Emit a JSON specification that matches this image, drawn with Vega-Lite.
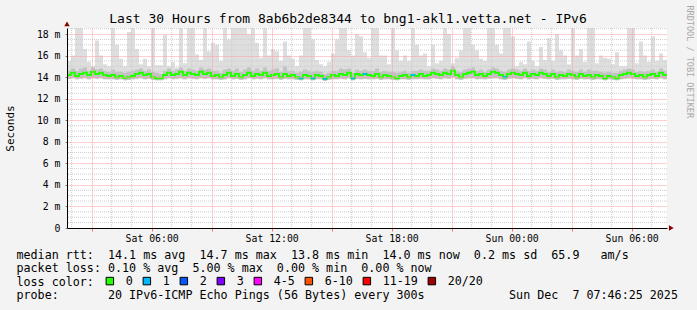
{
  "$schema": "https://vega.github.io/schema/vega-lite/v6.json",
  "width": 600,
  "height": 200,
  "autosize": {"type": "none"},
  "padding": {"left": 67, "top": 28, "right": 30, "bottom": 82},
  "background": "#f3f3f3",
  "config": {
    "view": {"fill": "#ffffff", "stroke": null},
    "font": "DejaVu Sans Mono"
  },
  "title": {
    "text": "Last 30 Hours from 8ab6b2de8344 to bng1-akl1.vetta.net - IPv6",
    "font": "DejaVu Sans Mono",
    "fontSize": 13,
    "fontWeight": "normal",
    "color": "#000000",
    "anchor": "middle",
    "baseline": "alphabetic",
    "offset": -31,
    "dx": -19
  },
  "resolve": {"axis": {"y": "independent"}},
  "datasets": {
    "s": [
      {"t":"2025-12-06T01:46Z","m":14.2,"lo":13.85,"q3":14.6,"hi":15.5},
      {"t":"2025-12-06T01:58Z","m":14.4,"lo":13.9,"q3":14.8,"hi":16.0},
      {"t":"2025-12-06T02:10Z","m":14.1,"lo":13.8,"q3":14.6,"hi":19.5},
      {"t":"2025-12-06T02:22Z","m":14.3,"lo":13.85,"q3":14.8,"hi":19.5},
      {"t":"2025-12-06T02:34Z","m":14.4,"lo":13.9,"q3":14.9,"hi":16.6},
      {"t":"2025-12-06T02:46Z","m":14.2,"lo":13.8,"q3":14.6,"hi":15.4},
      {"t":"2025-12-06T02:58Z","m":14.5,"lo":13.9,"q3":14.9,"hi":15.0},
      {"t":"2025-12-06T03:10Z","m":14.3,"lo":13.85,"q3":14.7,"hi":17.4},
      {"t":"2025-12-06T03:22Z","m":14.4,"lo":13.9,"q3":14.8,"hi":16.0},
      {"t":"2025-12-06T03:34Z","m":14.2,"lo":13.8,"q3":14.6,"hi":15.2},
      {"t":"2025-12-06T03:46Z","m":14.1,"lo":13.8,"q3":14.5,"hi":15.0},
      {"t":"2025-12-06T03:58Z","m":14.2,"lo":13.8,"q3":14.7,"hi":19.5},
      {"t":"2025-12-06T04:10Z","m":14.0,"lo":13.75,"q3":14.5,"hi":17.0},
      {"t":"2025-12-06T04:22Z","m":14.1,"lo":13.8,"q3":14.5,"hi":15.7},
      {"t":"2025-12-06T04:34Z","m":13.95,"lo":13.7,"q3":14.4,"hi":15.0},
      {"t":"2025-12-06T04:46Z","m":14.0,"lo":13.75,"q3":14.5,"hi":18.2},
      {"t":"2025-12-06T04:58Z","m":14.1,"lo":13.8,"q3":14.6,"hi":19.5},
      {"t":"2025-12-06T05:10Z","m":14.3,"lo":13.85,"q3":14.7,"hi":16.6},
      {"t":"2025-12-06T05:22Z","m":14.4,"lo":13.9,"q3":14.8,"hi":15.2},
      {"t":"2025-12-06T05:34Z","m":14.2,"lo":13.8,"q3":14.6,"hi":15.7},
      {"t":"2025-12-06T05:46Z","m":14.3,"lo":13.85,"q3":14.7,"hi":15.0},
      {"t":"2025-12-06T05:58Z","m":14.0,"lo":13.75,"q3":14.5,"hi":19.5},
      {"t":"2025-12-06T06:10Z","m":13.9,"lo":13.7,"q3":14.4,"hi":15.1},
      {"t":"2025-12-06T06:22Z","m":13.9,"lo":13.7,"q3":14.3,"hi":15.1},
      {"t":"2025-12-06T06:34Z","m":14.2,"lo":13.8,"q3":14.6,"hi":17.9},
      {"t":"2025-12-06T06:46Z","m":14.4,"lo":13.9,"q3":14.8,"hi":15.0},
      {"t":"2025-12-06T06:58Z","m":14.2,"lo":13.8,"q3":14.6,"hi":15.4},
      {"t":"2025-12-06T07:10Z","m":14.3,"lo":13.85,"q3":14.7,"hi":14.9},
      {"t":"2025-12-06T07:22Z","m":14.5,"lo":13.9,"q3":14.9,"hi":19.5},
      {"t":"2025-12-06T07:34Z","m":14.2,"lo":13.8,"q3":14.6,"hi":15.3},
      {"t":"2025-12-06T07:46Z","m":14.4,"lo":13.9,"q3":14.8,"hi":19.5},
      {"t":"2025-12-06T07:58Z","m":14.3,"lo":13.85,"q3":14.7,"hi":19.5},
      {"t":"2025-12-06T08:10Z","m":14.2,"lo":13.8,"q3":14.6,"hi":16.1},
      {"t":"2025-12-06T08:22Z","m":14.5,"lo":13.9,"q3":14.9,"hi":15.6},
      {"t":"2025-12-06T08:34Z","m":14.3,"lo":13.85,"q3":14.7,"hi":19.5},
      {"t":"2025-12-06T08:46Z","m":14.4,"lo":13.9,"q3":14.8,"hi":16.4},
      {"t":"2025-12-06T08:58Z","m":14.1,"lo":13.8,"q3":14.6,"hi":17.2},
      {"t":"2025-12-06T09:10Z","m":14.2,"lo":13.8,"q3":14.6,"hi":17.0},
      {"t":"2025-12-06T09:22Z","m":14.0,"lo":13.75,"q3":14.4,"hi":15.5},
      {"t":"2025-12-06T09:34Z","m":14.2,"lo":13.8,"q3":14.7,"hi":19.5},
      {"t":"2025-12-06T09:46Z","m":14.4,"lo":13.9,"q3":14.8,"hi":17.5},
      {"t":"2025-12-06T09:58Z","m":14.1,"lo":13.8,"q3":14.6,"hi":19.5},
      {"t":"2025-12-06T10:10Z","m":14.3,"lo":13.85,"q3":14.8,"hi":19.5},
      {"t":"2025-12-06T10:22Z","m":14.0,"lo":13.75,"q3":14.5,"hi":19.5},
      {"t":"2025-12-06T10:34Z","m":14.2,"lo":13.8,"q3":14.7,"hi":19.5},
      {"t":"2025-12-06T10:46Z","m":14.4,"lo":13.9,"q3":14.9,"hi":18.0},
      {"t":"2025-12-06T10:58Z","m":14.1,"lo":13.8,"q3":14.6,"hi":19.5},
      {"t":"2025-12-06T11:10Z","m":14.3,"lo":13.85,"q3":14.8,"hi":17.2},
      {"t":"2025-12-06T11:22Z","m":14.2,"lo":13.8,"q3":14.6,"hi":15.8},
      {"t":"2025-12-06T11:34Z","m":14.4,"lo":13.9,"q3":14.9,"hi":19.5},
      {"t":"2025-12-06T11:46Z","m":14.1,"lo":13.8,"q3":14.6,"hi":16.0},
      {"t":"2025-12-06T11:58Z","m":14.2,"lo":13.8,"q3":14.7,"hi":16.6},
      {"t":"2025-12-06T12:10Z","m":14.3,"lo":13.85,"q3":14.8,"hi":16.4},
      {"t":"2025-12-06T12:22Z","m":14.0,"lo":13.75,"q3":14.5,"hi":15.5},
      {"t":"2025-12-06T12:34Z","m":14.3,"lo":13.85,"q3":15.0,"hi":17.3},
      {"t":"2025-12-06T12:46Z","m":14.1,"lo":13.8,"q3":14.6,"hi":16.0},
      {"t":"2025-12-06T12:58Z","m":14.2,"lo":13.8,"q3":14.6,"hi":15.7},
      {"t":"2025-12-06T13:10Z","m":14.0,"lo":13.75,"q3":14.4,"hi":15.0},
      {"t":"2025-12-06T13:22Z","m":13.9,"lo":13.7,"q3":14.5,"hi":16.0},
      {"t":"2025-12-06T13:34Z","m":14.2,"lo":13.8,"q3":14.7,"hi":19.5},
      {"t":"2025-12-06T13:46Z","m":14.1,"lo":13.8,"q3":14.6,"hi":19.5},
      {"t":"2025-12-06T13:58Z","m":13.9,"lo":13.7,"q3":14.5,"hi":17.5},
      {"t":"2025-12-06T14:10Z","m":14.2,"lo":13.8,"q3":14.6,"hi":15.6},
      {"t":"2025-12-06T14:22Z","m":14.1,"lo":13.8,"q3":14.5,"hi":15.2},
      {"t":"2025-12-06T14:34Z","m":13.85,"lo":13.65,"q3":14.3,"hi":15.0},
      {"t":"2025-12-06T14:46Z","m":14.0,"lo":13.75,"q3":14.4,"hi":15.4},
      {"t":"2025-12-06T14:58Z","m":14.2,"lo":13.8,"q3":14.6,"hi":16.2},
      {"t":"2025-12-06T15:10Z","m":14.1,"lo":13.8,"q3":14.6,"hi":17.5},
      {"t":"2025-12-06T15:22Z","m":14.3,"lo":13.85,"q3":14.8,"hi":19.5},
      {"t":"2025-12-06T15:34Z","m":14.2,"lo":13.8,"q3":14.7,"hi":19.0},
      {"t":"2025-12-06T15:46Z","m":14.4,"lo":13.9,"q3":14.8,"hi":16.5},
      {"t":"2025-12-06T15:58Z","m":13.9,"lo":13.7,"q3":14.4,"hi":16.0},
      {"t":"2025-12-06T16:10Z","m":14.3,"lo":13.85,"q3":14.7,"hi":18.0},
      {"t":"2025-12-06T16:22Z","m":14.2,"lo":13.8,"q3":14.6,"hi":17.8},
      {"t":"2025-12-06T16:34Z","m":14.3,"lo":13.85,"q3":14.7,"hi":16.3},
      {"t":"2025-12-06T16:46Z","m":14.2,"lo":13.8,"q3":14.6,"hi":15.8},
      {"t":"2025-12-06T16:58Z","m":14.1,"lo":13.8,"q3":14.6,"hi":19.5},
      {"t":"2025-12-06T17:10Z","m":14.3,"lo":13.85,"q3":14.8,"hi":19.0},
      {"t":"2025-12-06T17:22Z","m":14.0,"lo":13.75,"q3":14.5,"hi":16.0},
      {"t":"2025-12-06T17:34Z","m":14.2,"lo":13.8,"q3":14.6,"hi":16.0},
      {"t":"2025-12-06T17:46Z","m":14.1,"lo":13.8,"q3":14.5,"hi":15.2},
      {"t":"2025-12-06T17:58Z","m":14.0,"lo":13.75,"q3":14.5,"hi":19.5},
      {"t":"2025-12-06T18:10Z","m":13.9,"lo":13.7,"q3":14.4,"hi":16.5},
      {"t":"2025-12-06T18:22Z","m":14.1,"lo":13.8,"q3":14.5,"hi":15.5},
      {"t":"2025-12-06T18:34Z","m":14.2,"lo":13.8,"q3":14.6,"hi":16.0},
      {"t":"2025-12-06T18:46Z","m":14.0,"lo":13.75,"q3":14.4,"hi":15.5},
      {"t":"2025-12-06T18:58Z","m":14.2,"lo":13.8,"q3":14.6,"hi":19.5},
      {"t":"2025-12-06T19:10Z","m":14.1,"lo":13.8,"q3":14.6,"hi":17.0},
      {"t":"2025-12-06T19:22Z","m":14.3,"lo":13.85,"q3":14.7,"hi":16.0},
      {"t":"2025-12-06T19:34Z","m":14.1,"lo":13.8,"q3":14.6,"hi":16.2},
      {"t":"2025-12-06T19:46Z","m":14.2,"lo":13.8,"q3":14.6,"hi":15.0},
      {"t":"2025-12-06T19:58Z","m":14.4,"lo":13.9,"q3":14.8,"hi":17.0},
      {"t":"2025-12-06T20:10Z","m":14.3,"lo":13.85,"q3":14.7,"hi":15.3},
      {"t":"2025-12-06T20:22Z","m":14.2,"lo":13.8,"q3":14.6,"hi":15.5},
      {"t":"2025-12-06T20:34Z","m":14.4,"lo":13.9,"q3":14.8,"hi":19.5},
      {"t":"2025-12-06T20:46Z","m":14.3,"lo":13.85,"q3":14.7,"hi":18.0},
      {"t":"2025-12-06T20:58Z","m":14.6,"lo":14.0,"q3":15.0,"hi":15.3},
      {"t":"2025-12-06T21:10Z","m":14.2,"lo":13.8,"q3":14.6,"hi":15.8},
      {"t":"2025-12-06T21:22Z","m":14.0,"lo":13.75,"q3":14.5,"hi":16.5},
      {"t":"2025-12-06T21:34Z","m":14.3,"lo":13.85,"q3":14.7,"hi":19.5},
      {"t":"2025-12-06T21:46Z","m":14.4,"lo":13.9,"q3":14.8,"hi":19.5},
      {"t":"2025-12-06T21:58Z","m":14.5,"lo":13.9,"q3":14.9,"hi":17.0},
      {"t":"2025-12-06T22:10Z","m":14.2,"lo":13.8,"q3":14.6,"hi":16.5},
      {"t":"2025-12-06T22:22Z","m":14.3,"lo":13.85,"q3":14.7,"hi":15.7},
      {"t":"2025-12-06T22:34Z","m":14.1,"lo":13.8,"q3":14.5,"hi":15.5},
      {"t":"2025-12-06T22:46Z","m":14.3,"lo":13.85,"q3":14.7,"hi":19.5},
      {"t":"2025-12-06T22:58Z","m":14.5,"lo":13.9,"q3":14.9,"hi":19.5},
      {"t":"2025-12-06T23:10Z","m":14.4,"lo":13.9,"q3":14.8,"hi":17.0},
      {"t":"2025-12-06T23:22Z","m":14.2,"lo":13.8,"q3":14.6,"hi":16.2},
      {"t":"2025-12-06T23:34Z","m":14.0,"lo":13.75,"q3":14.5,"hi":19.5},
      {"t":"2025-12-06T23:46Z","m":14.3,"lo":13.85,"q3":14.7,"hi":19.5},
      {"t":"2025-12-06T23:58Z","m":14.4,"lo":13.9,"q3":14.8,"hi":17.8},
      {"t":"2025-12-07T00:10Z","m":14.3,"lo":13.85,"q3":14.7,"hi":15.0},
      {"t":"2025-12-07T00:22Z","m":14.2,"lo":13.8,"q3":14.6,"hi":15.4},
      {"t":"2025-12-07T00:34Z","m":14.4,"lo":13.9,"q3":14.8,"hi":15.2},
      {"t":"2025-12-07T00:46Z","m":14.1,"lo":13.8,"q3":14.6,"hi":17.3},
      {"t":"2025-12-07T00:58Z","m":14.3,"lo":13.85,"q3":14.7,"hi":15.5},
      {"t":"2025-12-07T01:10Z","m":14.2,"lo":13.8,"q3":14.6,"hi":15.0},
      {"t":"2025-12-07T01:22Z","m":14.4,"lo":13.9,"q3":14.8,"hi":16.8},
      {"t":"2025-12-07T01:34Z","m":14.3,"lo":13.85,"q3":14.7,"hi":15.6},
      {"t":"2025-12-07T01:46Z","m":14.1,"lo":13.8,"q3":14.5,"hi":17.6},
      {"t":"2025-12-07T01:58Z","m":14.3,"lo":13.85,"q3":14.7,"hi":15.5},
      {"t":"2025-12-07T02:10Z","m":14.0,"lo":13.75,"q3":14.5,"hi":18.0},
      {"t":"2025-12-07T02:22Z","m":14.2,"lo":13.8,"q3":14.6,"hi":16.5},
      {"t":"2025-12-07T02:34Z","m":14.1,"lo":13.8,"q3":14.5,"hi":16.0},
      {"t":"2025-12-07T02:46Z","m":14.3,"lo":13.85,"q3":14.7,"hi":15.2},
      {"t":"2025-12-07T02:58Z","m":14.2,"lo":13.8,"q3":14.6,"hi":19.5},
      {"t":"2025-12-07T03:10Z","m":14.0,"lo":13.75,"q3":14.5,"hi":16.0},
      {"t":"2025-12-07T03:22Z","m":14.3,"lo":13.85,"q3":14.7,"hi":16.6},
      {"t":"2025-12-07T03:34Z","m":14.1,"lo":13.8,"q3":14.5,"hi":15.4},
      {"t":"2025-12-07T03:46Z","m":14.2,"lo":13.8,"q3":14.7,"hi":19.5},
      {"t":"2025-12-07T03:58Z","m":14.0,"lo":13.75,"q3":14.6,"hi":19.0},
      {"t":"2025-12-07T04:10Z","m":14.2,"lo":13.8,"q3":14.6,"hi":15.3},
      {"t":"2025-12-07T04:22Z","m":14.1,"lo":13.8,"q3":14.5,"hi":16.0},
      {"t":"2025-12-07T04:34Z","m":13.9,"lo":13.7,"q3":14.4,"hi":15.8},
      {"t":"2025-12-07T04:46Z","m":14.1,"lo":13.8,"q3":14.5,"hi":15.7},
      {"t":"2025-12-07T04:58Z","m":14.0,"lo":13.75,"q3":14.4,"hi":15.2},
      {"t":"2025-12-07T05:10Z","m":13.9,"lo":13.7,"q3":14.4,"hi":16.3},
      {"t":"2025-12-07T05:22Z","m":14.2,"lo":13.8,"q3":14.6,"hi":15.0},
      {"t":"2025-12-07T05:34Z","m":14.3,"lo":13.85,"q3":14.7,"hi":15.0},
      {"t":"2025-12-07T05:46Z","m":14.4,"lo":13.9,"q3":14.8,"hi":19.5},
      {"t":"2025-12-07T05:58Z","m":14.3,"lo":13.85,"q3":14.7,"hi":19.5},
      {"t":"2025-12-07T06:10Z","m":14.1,"lo":13.8,"q3":14.5,"hi":15.3},
      {"t":"2025-12-07T06:22Z","m":14.2,"lo":13.8,"q3":14.6,"hi":17.3},
      {"t":"2025-12-07T06:34Z","m":14.0,"lo":13.75,"q3":14.5,"hi":16.0},
      {"t":"2025-12-07T06:46Z","m":14.2,"lo":13.8,"q3":14.6,"hi":15.4},
      {"t":"2025-12-07T06:58Z","m":14.3,"lo":13.85,"q3":14.7,"hi":17.8},
      {"t":"2025-12-07T07:10Z","m":14.1,"lo":13.8,"q3":14.5,"hi":15.5},
      {"t":"2025-12-07T07:22Z","m":14.4,"lo":13.9,"q3":14.8,"hi":16.2},
      {"t":"2025-12-07T07:34Z","m":14.2,"lo":13.8,"q3":14.6,"hi":15.6},
      {"t":"2025-12-07T07:46Z","m":14.2,"lo":13.8,"q3":14.6,"hi":15.6}
    ],
    "loss": [
      {"t":"2025-12-06T13:28Z","m":13.9,"l":"1"},
      {"t":"2025-12-06T14:04Z","m":13.9,"l":"1"},
      {"t":"2025-12-06T14:40Z","m":13.85,"l":"1"},
      {"t":"2025-12-06T16:04Z","m":13.9,"l":"1"},
      {"t":"2025-12-06T16:40Z","m":14.3,"l":"1"},
      {"t":"2025-12-06T19:04Z","m":14.2,"l":"1"},
      {"t":"2025-12-06T23:40Z","m":14.0,"l":"1"}
    ],
    "hgrid": [
      {"v":0.5},{"v":1},{"v":1.5},{"v":2.5},{"v":3},{"v":3.5},{"v":4.5},{"v":5},{"v":5.5},
      {"v":6.5},{"v":7},{"v":7.5},{"v":8.5},{"v":9},{"v":9.5},{"v":10.5},{"v":11},{"v":11.5},
      {"v":12.5},{"v":13},{"v":13.5},{"v":14.5},{"v":15},{"v":15.5},{"v":16.5},{"v":17},{"v":17.5},{"v":18.5}
    ],
    "vgrid": [
      {"t":"2025-12-06T02:00Z"},{"t":"2025-12-06T04:00Z"},{"t":"2025-12-06T05:00Z"},
      {"t":"2025-12-06T07:00Z"},{"t":"2025-12-06T08:00Z"},{"t":"2025-12-06T10:00Z"},
      {"t":"2025-12-06T11:00Z"},{"t":"2025-12-06T13:00Z"},{"t":"2025-12-06T14:00Z"},
      {"t":"2025-12-06T16:00Z"},{"t":"2025-12-06T17:00Z"},{"t":"2025-12-06T19:00Z"},
      {"t":"2025-12-06T20:00Z"},{"t":"2025-12-06T22:00Z"},{"t":"2025-12-06T23:00Z"},
      {"t":"2025-12-07T01:00Z"},{"t":"2025-12-07T02:00Z"},{"t":"2025-12-07T04:00Z"},
      {"t":"2025-12-07T05:00Z"},{"t":"2025-12-07T07:00Z"}
    ],
    "arrowUp": [{"t":"2025-12-06T01:46Z","v":18.95}],
    "arrowRight": [{"t":"2025-12-07T07:59Z","v":0}]
  },
  "layer": [
    {
      "data": {"name": "s"},
      "mark": {"type": "area", "interpolate": "step-after", "color": "#dedede", "clip": true},
      "encoding": {
        "x": {
          "field": "t", "type": "temporal",
          "scale": {"type": "utc", "domain": [{"year":2025,"month":12,"date":6,"hours":1,"minutes":46,"utc":true},{"year":2025,"month":12,"date":7,"hours":7,"minutes":46,"utc":true}]},
          "axis": {
            "values": [
              {"year":2025,"month":12,"date":6,"hours":3,"utc":true},
              {"year":2025,"month":12,"date":6,"hours":6,"utc":true},
              {"year":2025,"month":12,"date":6,"hours":9,"utc":true},
              {"year":2025,"month":12,"date":6,"hours":12,"utc":true},
              {"year":2025,"month":12,"date":6,"hours":15,"utc":true},
              {"year":2025,"month":12,"date":6,"hours":18,"utc":true},
              {"year":2025,"month":12,"date":6,"hours":21,"utc":true},
              {"year":2025,"month":12,"date":7,"hours":0,"utc":true},
              {"year":2025,"month":12,"date":7,"hours":3,"utc":true},
              {"year":2025,"month":12,"date":7,"hours":6,"utc":true}
            ],
            "labelExpr": "utchours(datum.value) % 6 == 0 ? utcFormat(datum.value, '%a %H:%M') : ''",
            "grid": true, "gridColor": "#ff9f9f", "gridDash": [1, 1], "gridWidth": 1,
            "domainColor": "#000000", "domainWidth": 1,
            "tickColor": "#ff7070", "tickSize": 3,
            "labelFont": "DejaVu Sans Mono", "labelFontSize": 9.8, "labelColor": "#000000",
            "labelPadding": 2, "labelFlush": false, "labelOverlap": false,
            "title": [
              "median rtt:\u00a0\u00a014.1 ms avg\u00a0\u00a014.7 ms max\u00a0\u00a013.8 ms min\u00a0\u00a014.0 ms now\u00a0\u00a00.2 ms sd\u00a0\u00a065.9\u00a0\u00a0\u00a0am/s",
              "packet loss:\u00a00.10 % avg\u00a0\u00a05.00 % max\u00a0\u00a00.00 % min\u00a0\u00a00.00 % now",
              "loss color:",
              "probe:\u00a0\u00a0\u00a0\u00a0\u00a0\u00a0\u00a020 IPv6-ICMP Echo Pings (56 Bytes) every 300s\u00a0\u00a0\u00a0\u00a0\u00a0\u00a0\u00a0\u00a0\u00a0\u00a0\u00a0\u00a0Sun Dec\u00a0\u00a07 07:46:25 2025"
            ],
            "titleFont": "DejaVu Sans Mono", "titleFontSize": 11.7, "titleFontWeight": "normal",
            "titleColor": "#000000", "titleAlign": "left", "titleAnchor": "start",
            "titleX": -51, "titleY": 21, "titleBaseline": "top", "titleLineHeight": 13.6,
            "zindex": 1
          }
        },
        "y": {
          "field": "lo", "type": "quantitative",
          "scale": {"domain": [0, 18.56], "nice": false, "zero": false},
          "axis": {
            "orient": "left",
            "values": [0, 2, 4, 6, 8, 10, 12, 14, 16, 18],
            "labelExpr": "datum.value == 0 ? '0\u00a0\u00a0' : datum.value + ' m'",
            "grid": true, "gridColor": "#ff9f9f", "gridDash": [1, 1], "gridWidth": 1,
            "domainColor": "#000000", "domainWidth": 1,
            "tickColor": "#808080", "tickSize": 2,
            "labelFont": "DejaVu Sans Mono", "labelFontSize": 9.8, "labelColor": "#000000",
            "labelPadding": 5,
            "title": "Seconds",
            "titleFont": "DejaVu Sans Mono", "titleFontSize": 11, "titleFontWeight": "normal",
            "titleColor": "#000000", "titleX": -57, "titleBaseline": "middle",
            "zindex": 1
          }
        },
        "y2": {"field": "hi"}
      }
    },
    {
      "data": {"name": "arrowUp"},
      "mark": {"type": "point", "shape": "triangle-up", "filled": true, "color": "#8b0000", "size": 30, "opacity": 1},
      "encoding": {
        "x": {"field": "t", "type": "temporal", "scale": {"type": "utc", "domain": [{"year":2025,"month":12,"date":6,"hours":1,"minutes":46,"utc":true},{"year":2025,"month":12,"date":7,"hours":7,"minutes":46,"utc":true}]}},
        "y": {
          "field": "v", "type": "quantitative",
          "scale": {"domain": [0, 18.56], "nice": false, "zero": false},
          "axis": {
            "orient": "right", "labels": false, "ticks": false, "domain": false, "grid": false,
            "title": "RRDTOOL / TOBI OETIKER",
            "titleFont": "DejaVu Sans Mono", "titleFontSize": 8.5, "titleFontWeight": "normal",
            "titleColor": "#a8a8a8", "titleAngle": 90, "titleX": 22, "titleY": -23,
            "titleAlign": "left", "titleBaseline": "middle"
          }
        }
      }
    },
    {
      "data": {"name": "s"},
      "mark": {"type": "area", "interpolate": "step-after", "color": "#c2c2c2", "clip": true},
      "encoding": {
        "x": {"field": "t", "type": "temporal", "scale": {"type": "utc", "domain": [{"year":2025,"month":12,"date":6,"hours":1,"minutes":46,"utc":true},{"year":2025,"month":12,"date":7,"hours":7,"minutes":46,"utc":true}]}},
        "y": {"field": "lo", "type": "quantitative", "scale": {"domain": [0, 18.56], "nice": false, "zero": false}, "axis": null},
        "y2": {"field": "q3"}
      }
    },
    {
      "data": {"name": "hgrid"},
      "mark": {"type": "rule", "color": "#cccccc", "strokeDash": [1, 1], "strokeWidth": 1},
      "encoding": {
        "y": {"field": "v", "type": "quantitative", "scale": {"domain": [0, 18.56], "nice": false, "zero": false}, "axis": null}
      }
    },
    {
      "data": {"name": "vgrid"},
      "mark": {"type": "rule", "color": "#cccccc", "strokeDash": [1, 1], "strokeWidth": 1},
      "encoding": {
        "x": {"field": "t", "type": "temporal", "scale": {"type": "utc", "domain": [{"year":2025,"month":12,"date":6,"hours":1,"minutes":46,"utc":true},{"year":2025,"month":12,"date":7,"hours":7,"minutes":46,"utc":true}]}}
      }
    },
    {
      "data": {"name": "s"},
      "mark": {"type": "line", "interpolate": "step-after", "color": "#26ff00", "strokeWidth": 2, "clip": true},
      "encoding": {
        "x": {"field": "t", "type": "temporal", "scale": {"type": "utc", "domain": [{"year":2025,"month":12,"date":6,"hours":1,"minutes":46,"utc":true},{"year":2025,"month":12,"date":7,"hours":7,"minutes":46,"utc":true}]}},
        "y": {"field": "m", "type": "quantitative", "scale": {"domain": [0, 18.56], "nice": false, "zero": false}, "axis": null}
      }
    },
    {
      "data": {"name": "loss"},
      "mark": {"type": "tick", "orient": "horizontal", "size": 4, "thickness": 2, "opacity": 1},
      "encoding": {
        "x": {"field": "t", "type": "temporal", "scale": {"type": "utc", "domain": [{"year":2025,"month":12,"date":6,"hours":1,"minutes":46,"utc":true},{"year":2025,"month":12,"date":7,"hours":7,"minutes":46,"utc":true}]}},
        "y": {"field": "m", "type": "quantitative", "scale": {"domain": [0, 18.56], "nice": false, "zero": false}, "axis": null},
        "color": {
          "field": "l", "type": "nominal",
          "scale": {
            "domain": ["0", "1", "2", "3", "4-5", "6-10", "11-19", "20/20"],
            "range": ["#26ff00", "#00b8ff", "#0059ff", "#7e00ff", "#ff00ff", "#ff5500", "#ff0000", "#a10000"]
          },
          "legend": {
            "title": null, "orient": "none",
            "legendX": 37, "legendY": 247, "direction": "horizontal",
            "labelFont": "DejaVu Sans Mono", "labelFontSize": 11.7, "labelColor": "#000000",
            "symbolType": "square", "symbolSize": 56, "symbolStrokeColor": "#000000",
            "symbolStrokeWidth": 1, "symbolOpacity": 1, "labelOffset": 10, "columnPadding": 8
          }
        }
      }
    },
    {
      "data": {"name": "arrowRight"},
      "mark": {"type": "point", "shape": "triangle-right", "filled": true, "color": "#8b0000", "size": 30, "opacity": 1},
      "encoding": {
        "x": {"field": "t", "type": "temporal", "scale": {"type": "utc", "domain": [{"year":2025,"month":12,"date":6,"hours":1,"minutes":46,"utc":true},{"year":2025,"month":12,"date":7,"hours":7,"minutes":46,"utc":true}]}},
        "y": {"field": "v", "type": "quantitative", "scale": {"domain": [0, 18.56], "nice": false, "zero": false}, "axis": null}
      }
    }
  ]
}
